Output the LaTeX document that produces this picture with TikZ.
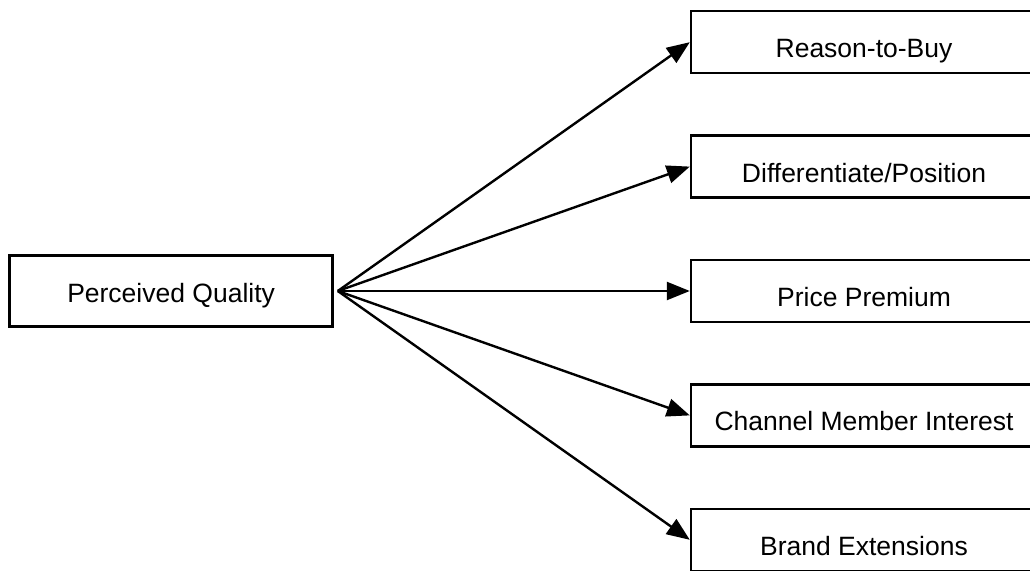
\documentclass[tikz,border=0pt]{standalone}
\usepackage{fontspec}
\setmainfont{Liberation Sans}
\usetikzlibrary{arrows.meta,positioning}
\tikzset{
	effect diagram/.style={
		x=1pt, y=1pt,
		line width=2.4pt,
		font=\fontsize{26.5}{30}\selectfont,
		node distance=60pt and 356pt,
		box/.style={draw, rectangle, inner sep=0pt,
			text height=31pt, text depth=0pt, line width=2.4pt},
		out box/.style={box, minimum width=346pt, minimum height=62pt},
		in box/.style={box, text height=24pt, minimum width=323pt, minimum height=71pt},
		ar/.style={-{Triangle[length=23pt,width=18pt]}, line width=2.4pt}
	}
}

\begin{document}
\begin{tikzpicture}[effect diagram]
	\clip (0,0) rectangle (1030,570);
	\node[out box] (price) at (864,279) {Price Premium};
	\node[out box, above=of price] (diff) {Differentiate/Position};
	\node[out box, above=of diff] (reason) {Reason-to-Buy};
	\node[out box, below=of price] (channel) {Channel Member Interest};
	\node[out box, below=of channel] (brand) {Brand Extensions};
	\node[in box, left=of price] (quality) {Perceived Quality};
	% effects of quality
	\foreach \t in {reason,diff,price,channel,brand}
		\draw[ar] ([xshift=4pt]quality.east) -- (\t.west);
\end{tikzpicture}
\end{document}
